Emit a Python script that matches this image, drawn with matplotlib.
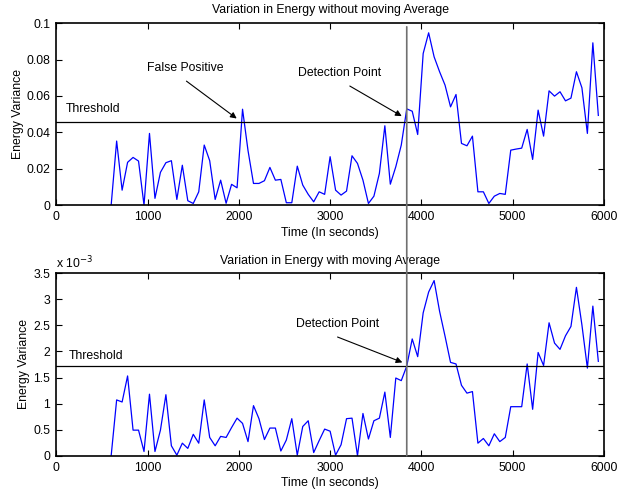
"""
Energy variance over time: without and with moving average
"""
import numpy as np
import matplotlib.pyplot as plt
from matplotlib.patches import ConnectionPatch
from matplotlib.ticker import FuncFormatter

plt.rcParams['font.family'] = ['Liberation Sans', 'DejaVu Sans']

# %% data (one sample every 60 s, starting at 600 s)
time_s = [600 + 60 * i for i in range(90)]

var_raw = [
    0.0, 0.0352, 0.0082, 0.0235, 0.0262, 0.0242, 0.0, 0.0394, 0.0037, 0.0180,
    0.0233, 0.0244, 0.0031, 0.0219, 0.0024, 0.0009, 0.0073, 0.0330, 0.0244, 0.0031,
    0.0137, 0.0010, 0.0114, 0.0095, 0.0527, 0.0300, 0.0119, 0.0119, 0.0134, 0.0207,
    0.0137, 0.0141, 0.0013, 0.0013, 0.0214, 0.0110, 0.0059, 0.0018, 0.0073, 0.0059,
    0.0266, 0.0082, 0.0055, 0.0077, 0.0271, 0.0229, 0.0137, 0.0009, 0.0049, 0.0174,
    0.0436, 0.0115, 0.0211, 0.0330, 0.0529, 0.0516, 0.0388, 0.0833, 0.0947, 0.0815,
    0.0733, 0.0659, 0.0540, 0.0608, 0.0339, 0.0326, 0.0379, 0.0073, 0.0073, 0.0009,
    0.0049, 0.0064, 0.0059, 0.0302, 0.0308, 0.0313, 0.0416, 0.0251, 0.0522, 0.0379,
    0.0628, 0.0599, 0.0623, 0.0573, 0.0588, 0.0733, 0.0645, 0.0394, 0.0892, 0.0493,
]

# moving average version, in units of 1e-3
var_avg_e3 = [
    0.0, 1.07, 1.03, 1.53, 0.49, 0.49, 0.08, 1.18, 0.08, 0.49,
    1.17, 0.19, 0.01, 0.24, 0.14, 0.41, 0.24, 1.07, 0.35, 0.19,
    0.37, 0.35, 0.54, 0.72, 0.62, 0.27, 0.96, 0.71, 0.31, 0.53,
    0.53, 0.09, 0.30, 0.71, 0.01, 0.56, 0.67, 0.06, 0.29, 0.51,
    0.47, 0.01, 0.21, 0.71, 0.72, 0.0, 0.81, 0.32, 0.67, 0.72,
    1.22, 0.35, 1.49, 1.44, 1.72, 2.24, 1.90, 2.74, 3.14, 3.36,
    2.77, 2.29, 1.79, 1.76, 1.35, 1.20, 1.23, 0.24, 0.33, 0.19,
    0.42, 0.27, 0.35, 0.94, 0.94, 0.94, 1.76, 0.89, 1.98, 1.73,
    2.55, 2.16, 2.04, 2.30, 2.48, 3.23, 2.51, 1.68, 2.87, 1.81,
]
var_avg = np.array(var_avg_e3) * 1e-3

thr_raw = 0.0458
thr_avg = 1.724e-3
detect_t = 3840

# %% figure
fig = plt.figure(figsize=(6.27, 4.93), dpi=100)
ax1 = fig.add_axes([0.090, 0.584, 0.873, 0.369])
ax2 = fig.add_axes([0.090, 0.0757, 0.873, 0.370])

fs = 8.8
arrow = dict(arrowstyle='-|>', color='k', lw=0.8, mutation_scale=9,
             shrinkA=0, shrinkB=0)
for ax in (ax1, ax2):
    ax.set_xlim(0, 6000)
    ax.set_xticks(range(0, 6001, 1000))
    ax.tick_params(direction='in', length=4, width=0.8, top=True, right=True,
                   labelsize=fs, pad=4.5)
    for sp in ax.spines.values():
        sp.set_linewidth(1.2)
    ax.set_xlabel('Time (In seconds)', fontsize=fs, labelpad=2.5)
    ax.set_ylabel('Energy Variance', fontsize=fs, labelpad=2)

# top: raw variance
ax1.plot(time_s, var_raw, color='#0000ff', lw=0.9)
ax1.axhline(thr_raw, color='k', lw=0.9)
ax1.set_ylim(0, 0.1)
ax1.set_yticks([0, 0.02, 0.04, 0.06, 0.08, 0.1])
ax1.yaxis.set_major_formatter(FuncFormatter(lambda v, p: f'{v:g}'))
ax1.set_title('Variation in Energy without moving Average', fontsize=fs, pad=7)
ax1.text(101, 0.0527, 'Threshold', fontsize=fs, va='center')
ax1.annotate('False Positive', xy=(1976, 0.0476), xytext=(989, 0.0754),
             fontsize=fs, va='center',
             arrowprops=dict(arrow, relpos=(0.52, -0.6)))
ax1.annotate('Detection Point', xy=(3785, 0.0489), xytext=(2651, 0.0727),
             fontsize=fs, va='center',
             arrowprops=dict(arrow, relpos=(0.62, -0.6)))

# bottom: moving average
ax2.plot(time_s, var_avg, color='#0000ff', lw=0.9)
ax2.axhline(thr_avg, color='k', lw=0.9)
ax2.set_ylim(0, 3.5e-3)
ax2.set_yticks(np.arange(0, 3.51, 0.5) * 1e-3)
ax2.yaxis.set_major_formatter(FuncFormatter(lambda v, p: f'{v * 1e3:g}'))
ax2.set_title('Variation in Energy with moving Average', fontsize=fs, pad=7)
ax2.text(0, 1.012, r'x 10$^{-3}$', transform=ax2.transAxes, fontsize=fs,
         va='bottom', ha='left')
ax2.text(140, 1.92e-3, 'Threshold', fontsize=fs, va='center')
ax2.annotate('Detection Point', xy=(3792, 1.79e-3), xytext=(2626, 2.53e-3),
             fontsize=fs, va='center',
             arrowprops=dict(arrow, relpos=(0.5, -0.6)))

# detection line through both panels
con = ConnectionPatch(xyA=(detect_t, 0.098), coordsA=ax1.transData,
                      xyB=(detect_t, 0), coordsB=ax2.transData,
                      color='#707070', lw=1.2, zorder=5)
fig.add_artist(con)

fig.savefig('out.png', dpi=100)
